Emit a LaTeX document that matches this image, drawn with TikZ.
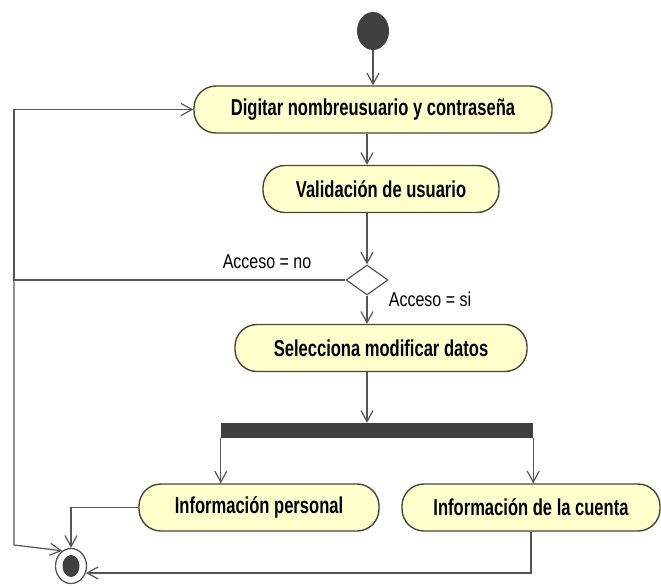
\documentclass[tikz,border=0pt]{standalone}
\usepackage{fontspec}
\setmainfont{Liberation Sans}[FakeStretch=0.72]
\newfontfamily\guardfont{Liberation Sans}[FakeStretch=0.8]
\usetikzlibrary{arrows.meta,shapes.geometric}
\definecolor{actfill}{RGB}{255,255,204}
\definecolor{actline}{RGB}{72,70,52}
\definecolor{darkfill}{RGB}{64,64,64}
\definecolor{flow}{RGB}{85,85,85}
\tikzset{
	activity/.style={draw=actline, line width=1.4pt, fill=actfill, rounded corners=22pt,
		minimum height=47pt, inner sep=0pt, font=\bfseries\fontsize{23}{23}\selectfont},
	guard/.style={inner sep=0pt, font=\guardfont\fontsize{20}{20}\selectfont},
	arr/.style={draw=flow, line width=1.2pt, -{Straight Barb[length=11pt,width=12pt]}}
}
\begin{document}
\begin{tikzpicture}[x=1pt,y=-1pt]
		\useasboundingbox (0,0) rectangle (661,586);
		\node[ellipse, fill=darkfill, minimum width=32pt, minimum height=38pt, inner sep=0pt] (start) at (373,31) {};
		\node[activity, minimum width=358pt] (dig) at (373,109.5) {Digitar nombreusuario y contraseña};
		\node[activity, minimum width=236pt] (val) at (381,189) {Validación de usuario};
		\node[diamond, draw=flow, line width=1.2pt, fill=white, aspect=1.4, minimum width=42pt, minimum height=30pt, inner sep=0pt] (dec) at (367,280) {};
		\node[activity, minimum width=292pt] (sel) at (381,348) {Selecciona modificar datos};
		\node[fill=darkfill, minimum width=312pt, minimum height=15pt, inner sep=0pt] (bar) at (377,430.5) {};
		\node[activity, minimum width=240pt] (ip) at (259,507.5) {Información personal};
		\node[activity, minimum width=258pt] (ic) at (531,507.5) {Información de la cuenta};
		\node[ellipse, draw=flow, line width=1.3pt, fill=white, minimum width=31pt, minimum height=35pt, inner sep=0pt,
			path picture={\fill[darkfill] (path picture bounding box.center) ellipse (8.5pt and 11pt);}] (fin) at (71,566) {};
		\coordinate (ltop) at (14,109.5);
		\coordinate (lbot) at (14,545);
		\node[guard] (lno) at (267,262) {Acceso = no};
		\node[guard] (lsi) at (430,299) {Acceso = si};
		\draw[arr] (start) -- (dig);
		\draw[arr] (dig.south -| dec) -- (val.north -| dec);
		\draw[arr] (val.south -| dec) -- (dec);
		\draw[arr] (dec) -- (sel.north -| dec);
		\draw[arr] (sel.south -| dec) -- (bar.north -| dec);
		\draw[arr] (bar.south west) -- (bar.south west |- ip.north);
		\draw[arr] (bar.south east) -- (bar.south east |- ic.north);
		\draw[arr] (dec.west) -| (ltop) -- (dig.west);
		\draw[arr] (dec.west -| lbot) -- (lbot) -- (fin.120);
		\draw[arr] (ip.west) -| (fin.north);
		\draw[arr] (ic.south) |- (fin.-25);
	\end{tikzpicture}
\end{document}
